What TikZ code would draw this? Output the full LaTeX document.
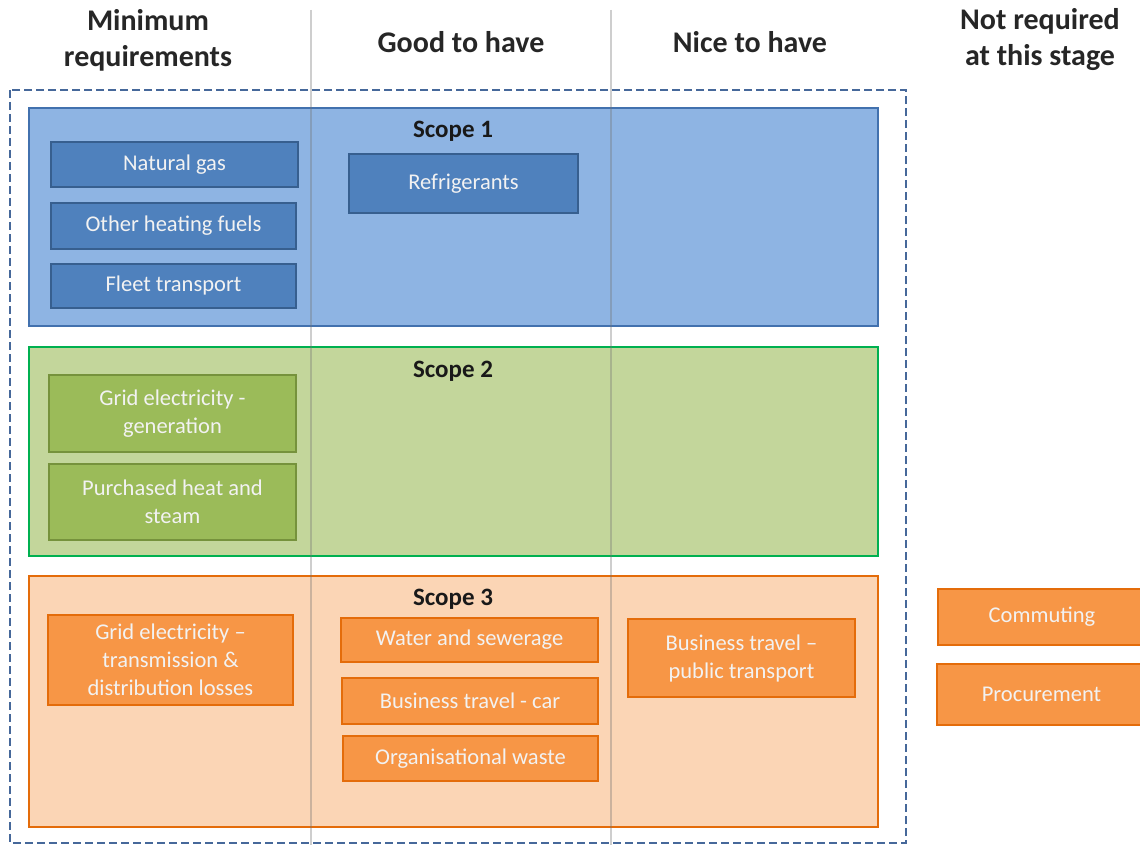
\documentclass[tikz,border=0pt]{standalone}
\usepackage{fontspec}
\setmainfont{Carlito}
\usepackage{xcolor}
\definecolor{scopeblue}{HTML}{8EB4E3}
\definecolor{edgeblue}{HTML}{4271AE}
\definecolor{itemblue}{HTML}{4F81BD}
\definecolor{itemblueedge}{HTML}{375F8F}
\definecolor{scopegreen}{HTML}{C3D69B}
\definecolor{edgegreen}{HTML}{00B050}
\definecolor{itemgreen}{HTML}{9BBB59}
\definecolor{itemgreenedge}{HTML}{76923C}
\definecolor{scopeorange}{HTML}{FBD5B5}
\definecolor{edgeorange}{HTML}{E46C0A}
\definecolor{itemorange}{HTML}{F79646}
\definecolor{dashblue}{HTML}{46689A}

\begin{document}
\begin{tikzpicture}[x=1pt, y=-1pt,
  header/.style={font=\bfseries\fontsize{30}{36}\selectfont, align=center, text=black!85},
  scopebox/.style={draw, line width=2pt, minimum width=849, inner sep=0},
  scopetitle/.style={font=\bfseries\fontsize{25}{30}\selectfont, text=black!90},
  item/.style={draw, line width=2.2pt, inner sep=0, align=center, text=white!95!black,
    font=\fontsize{22.5}{28}\selectfont},
  blueitem/.style={item, fill=itemblue, draw=itemblueedge},
  greenitem/.style={item, fill=itemgreen, draw=itemgreenedge},
  orangeitem/.style={item, fill=itemorange, draw=edgeorange}]
\useasboundingbox (0,0) rectangle (1140,845);

% outer dashed frame
\draw[dashblue, line width=2.6pt, dash pattern=on 8pt off 4pt] (10,90) rectangle (906,843);

% scope 1
\node[scopebox, fill=scopeblue, draw=edgeblue, minimum height=218] (scopeone) at (453.5,217) {};
\node[scopetitle] (titleone) at (453,131) {Scope 1};
\node[blueitem, minimum width=247, minimum height=45] (natgas) at (174.5,164.5) {Natural gas};
\node[blueitem, minimum width=245, minimum height=46] (heatfuel) at (173.5,226) {Other heating fuels};
\node[blueitem, minimum width=245, minimum height=44] (fleet) at (173.5,286) {Fleet transport};
\node[blueitem, minimum width=229, minimum height=59] (refrig) at (463.5,183.5) {Refrigerants};

% scope 2
\node[scopebox, fill=scopegreen, draw=edgegreen, minimum height=209] (scopetwo) at (453.5,451.5) {};
\node[scopetitle] (titletwo) at (453,371) {Scope 2};
\node[greenitem, minimum width=247, minimum height=77] (gridgen) at (172.5,413.5) {Grid electricity -\\generation};
\node[greenitem, minimum width=247, minimum height=76] (heatsteam) at (172.5,502) {Purchased heat and\\steam};

% scope 3
\node[scopebox, fill=scopeorange, draw=edgeorange, minimum height=251] (scopethree) at (453.5,701.5) {};
\node[scopetitle] (titlethree) at (453,599) {Scope 3};
\node[orangeitem, minimum width=245, minimum height=90] (gridloss) at (170.5,660) {Grid electricity --\\transmission \&\\distribution losses};
\node[orangeitem, minimum width=257, minimum height=44] (water) at (469.5,640) {Water and sewerage};
\node[orangeitem, minimum width=256, minimum height=46] (carbiz) at (470,701) {Business travel - car};
\node[orangeitem, minimum width=255, minimum height=45] (waste) at (470.5,758.5) {Organisational waste};
\node[orangeitem, minimum width=227, minimum height=78] (pubtrans) at (741.5,658) {Business travel --\\public transport};

% outside the frame
\node[orangeitem, minimum width=208, minimum height=56] (commute) at (1042,617) {Commuting};
\node[orangeitem, minimum width=209, minimum height=61] (procure) at (1041.5,694.5) {Procurement};

% column separators
\foreach \x in {311,611} {
  \draw[black!55, line width=1.5pt, opacity=.35] (\x,10) -- (\x,845);
}

% column headings
\node[header] (hdmin) at (148,40) {Minimum\\requirements};
\node[header] (hdgood) at (461,42) {Good to have};
\node[header] (hdnice) at (750,42) {Nice to have};
\node[header] (hdnot) at (1040,40) {Not required\\at this stage};
\end{tikzpicture}
\end{document}
